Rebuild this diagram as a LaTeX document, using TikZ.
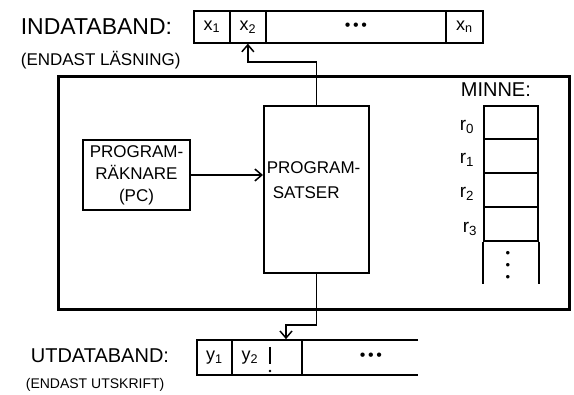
\documentclass[tikz,border=0pt]{standalone}
\usepackage{fontspec}
\setmainfont{Liberation Sans}
\usetikzlibrary{arrows.meta,calc}
\begin{document}
\begin{tikzpicture}[x=1pt,y=-1pt,
  line width=1.7pt,
  every node/.style={inner sep=0pt},
  cell/.style={draw,line width=1.7pt,minimum height=32pt,anchor=north west,font=\fontsize{18}{18}\selectfont},
  memcell/.style={draw,line width=1.7pt,minimum width=54pt,anchor=north west},
  reglbl/.style={font=\fontsize{19}{19}\selectfont},
  arr/.style={-{Straight Barb[length=7pt,width=12pt]},line width=1.5pt},
  lbl/.style={anchor=base west}
]
\useasboundingbox (0,0) rectangle (574,395);

% input tape
\node[lbl,font=\fontsize{23}{23}\selectfont] (inlbl) at (20,35) {INDATABAND:};
\node[lbl,font=\fontsize{17}{17}\selectfont] (insub) at (20,66) {(ENDAST LÄSNING)};
\node[cell,minimum width=36pt] (x1) at (193,10) {x\textsubscript{1}};
\node[cell,minimum width=36pt] (x2) at (229,10) {x\textsubscript{2}};
\node[cell,minimum width=180pt,font=\fontsize{16}{16}\selectfont] (xdots) at (265,10) {•\,•\,•};
\node[cell,minimum width=37pt] (xn) at (445,10) {x\textsubscript{n}};

% main box
\node[draw,line width=2.6pt,minimum width=511pt,minimum height=233pt,anchor=north west] (cpu) at (57,75) {};

% program counter
\node[draw,minimum width=107pt,minimum height=70pt,align=center,font=\fontsize{17}{22}\selectfont] (pc) at (136.5,175) {PROGRAM-\\RÄKNARE\\(PC)};

% program statements
\node[draw,minimum width=105pt,minimum height=167pt,anchor=north west] (satser) at (263,105) {};
\node[anchor=north west,align=left,font=\fontsize{17}{25}\selectfont] (satsertxt) at (266,161) {PROGRAM-\\\hspace{6pt}SATSER};

\draw[arr] (pc.east) -- (pc.east -| satser.west);

% memory
\node[lbl,font=\fontsize{20}{20}\selectfont] (minne) at (460,97) {MINNE:};
\node[memcell,minimum height=33pt] (m0) at (483,105) {};
\node[memcell,minimum height=34pt] (m1) at (483,138) {};
\node[memcell,minimum height=34pt] (m2) at (483,172) {};
\node[memcell,minimum height=34pt] (m3) at (483,206) {};
\draw (m3.south west) -- ++(0,42);
\draw (m3.south east) -- ++(0,42);
\node[align=center,font=\fontsize{13}{12}\selectfont] (mdots) at (508,266) {•\\•\\•};
\node[reglbl] (r0) at (467,127) {r\textsubscript{0}};
\node[reglbl] (r1) at (467,160) {r\textsubscript{1}};
\node[reglbl] (r2) at (467,194) {r\textsubscript{2}};
\node[reglbl] (r3) at (470,229) {r\textsubscript{3}};

% output tape
\node[lbl,font=\fontsize{20}{20}\selectfont] (outlbl) at (30,363) {UTDATABAND:};
\node[lbl,font=\fontsize{14}{14}\selectfont] (outsub) at (25,389) {(ENDAST UTSKRIFT)};
\draw (418,340) -- (197,340) -- (197,375) -- (418,375);
\draw (232,340) -- (232,375);
\draw (302,340) -- (302,375);
\draw (270,347) -- (270,364);
\fill (270,371) circle (1.3pt);
\node[font=\fontsize{18}{18}\selectfont] (y1) at (214.5,357.5) {y\textsubscript{1}};
\node[font=\fontsize{18}{18}\selectfont] (y2) at (250,357.5) {y\textsubscript{2}};
\node[minimum width=32pt,minimum height=35pt] (ycur) at (286,357.5) {};
\node[font=\fontsize{16}{16}\selectfont] (ydots) at (371,357) {•\,•\,•};

% connectors
\coordinate (inlevel) at (0,62);
\coordinate (outlevel) at (0,325);
\draw[arr] (satser.north) -- (satser.north |- inlevel) -| (x2.south);
\draw[arr] (satser.south) -- (satser.south |- outlevel) -| (ycur.north);
\end{tikzpicture}
\end{document}
